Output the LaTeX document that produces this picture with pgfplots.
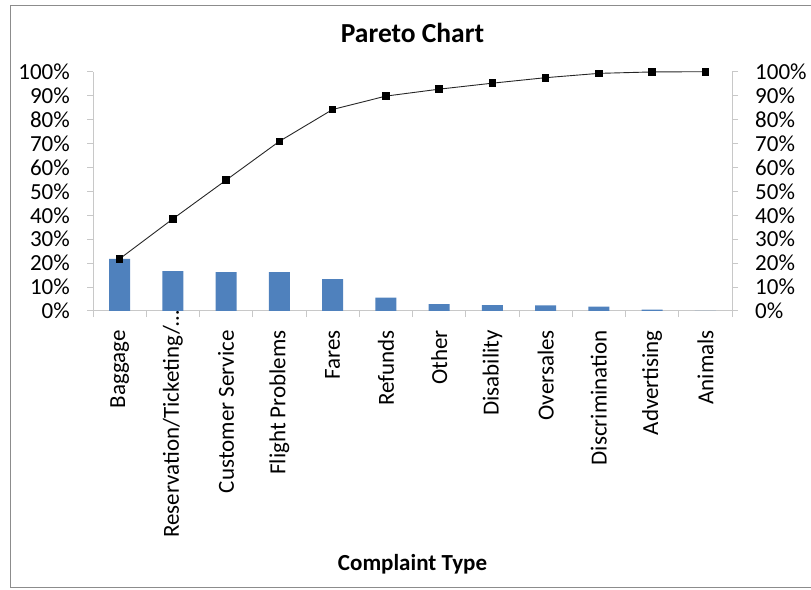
\documentclass[border=0pt]{standalone}
\usepackage{pgfplots}
\usepackage{pgfplotstable}
\pgfplotsset{compat=1.18}
\usepackage{fontspec}
\setmainfont{Carlito}
\definecolor{barblue}{HTML}{4F81BD}
\definecolor{axgray}{HTML}{C8C8C8}
\definecolor{framegray}{HTML}{8C8C8C}

\pgfplotstableread{
x pct cum
0 21.8 21.8
1 16.7 38.5
2 16.2 54.7
3 16.2 70.9
4 13.3 84.2
5 5.6 89.8
6 2.9 92.7
7 2.5 95.2
8 2.3 97.5
9 1.8 99.3
10 0.6 99.9
11 0.1 100.0
}\paretodata

\pgfplotsset{
  paretobase/.style={
    at={(93bp,279bp)}, anchor=south west, scale only axis,
    width=639bp, height=239.3bp,
    xmin=-0.5, xmax=11.5, ymin=0, ymax=100,
    axis line style={axgray, line width=1bp, -},
    ytick={0,10,...,100},
    yticklabels={0\%,10\%,20\%,30\%,40\%,50\%,60\%,70\%,80\%,90\%,100\%},
    minor ytick={0,10,...,100},
    major tick length=0pt, minor tick length=6bp, tick align=outside,
    tick style={axgray, line width=1bp},
    ticklabel style={font=\fontsize{23bp}{27bp}\selectfont, inner sep=0pt},
    yticklabel shift=23bp,
  }
}

\begin{document}
\begin{tikzpicture}
\useasboundingbox (0,0) rectangle (811bp,590bp);
\draw[framegray, line width=1bp] (10bp,2bp) rectangle (830bp,584bp);
\begin{axis}[
  paretobase,
  axis x line*=bottom, axis y line*=left,
  xtick={0,...,11},
  xticklabels={Baggage,Reservation/Ticketing/…\kern-20bp,Customer Service,Flight Problems,Fares,Refunds,Other,Disability,Oversales,Discrimination,Advertising,Animals},
  minor xtick={-0.5,0.5,...,11.5},
  xticklabel style={rotate=90, anchor=east},
  xticklabel shift=19bp,
]
\addplot[ybar, bar width=21bp, fill=barblue, draw=none] table[x=x,y=pct]{\paretodata};
\end{axis}
\begin{axis}[
  paretobase,
  axis x line=none, axis y line*=right,
  clip=false,
]
\addplot[black!85, line width=0.9bp, mark=square*, mark size=3.3bp, mark options={fill=black, draw=black, solid}] table[x=x,y=cum]{\paretodata};
\end{axis}
\node[anchor=base, font=\fontsize{27.5bp}{32bp}\selectfont\bfseries] at (412.5bp,547.3bp) {Pareto Chart};
\node[anchor=base, font=\fontsize{23bp}{27bp}\selectfont\bfseries] at (412.5bp,20bp) {Complaint Type};
\end{tikzpicture}
\end{document}
